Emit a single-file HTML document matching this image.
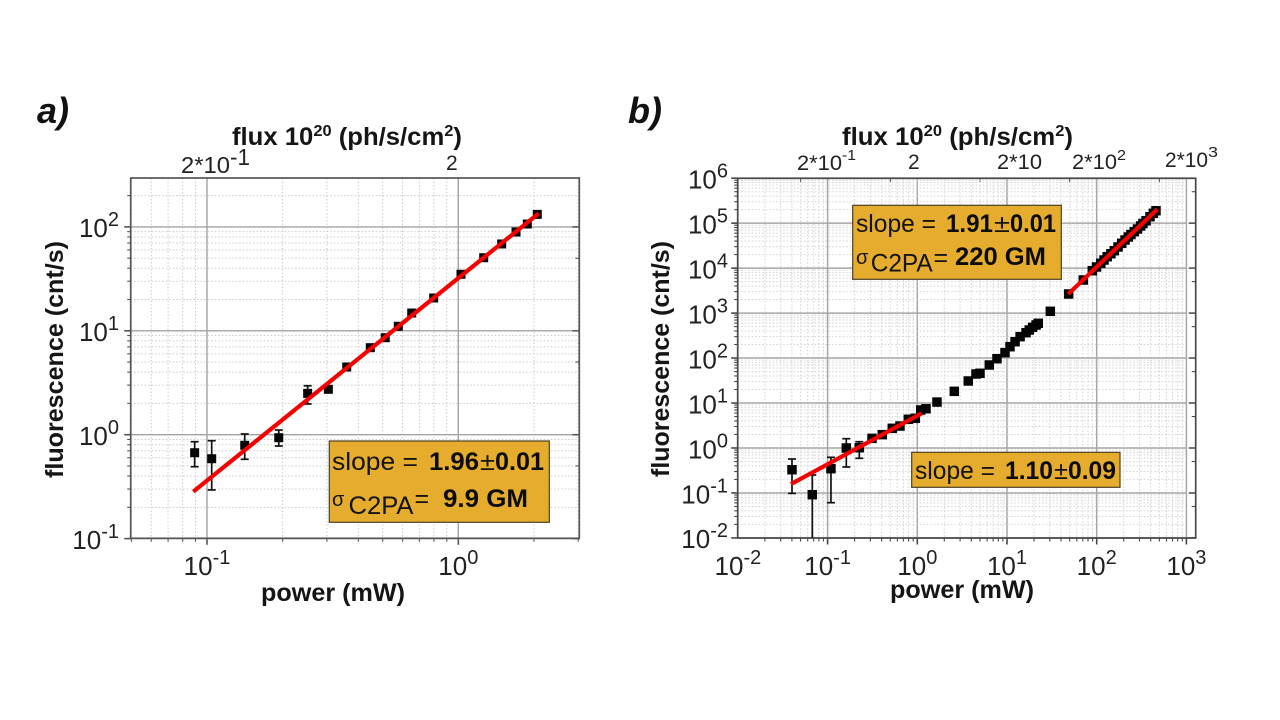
<!DOCTYPE html>
<html lang="en">
<head>
<meta charset="utf-8">
<title>Two-photon fluorescence versus power</title>
<style>
html,body{margin:0;padding:0;background:#fff;width:1280px;height:720px;overflow:hidden}
svg{display:block;filter:blur(0.35px)}
text{font-family:"Liberation Sans",sans-serif;fill:#1c1c1c}
.b{font-weight:700}
.title{font-weight:700;font-style:italic;font-size:36px;fill:#111}
.axt{font-weight:700;font-size:25px;fill:#151515}
.tk{font-size:26px;fill:#222}
.top{font-size:21px;fill:#222}
.topl{font-size:23px;fill:#222}
.topx{font-size:15px;fill:#222}
.box{fill:#e6ac2e;stroke:#4d4020;stroke-width:1.2}
.bt{font-size:25px;fill:#141414}
.sig{font-size:20px;fill:#141414}
.bb{font-size:25px;font-weight:700;fill:#0c0c0c}
</style>
</head>
<body>
<svg id="figure" xmlns="http://www.w3.org/2000/svg" width="1280" height="720" viewBox="0 0 1280 720">
  <rect width="1280" height="720" fill="#fff"/>
  <g id="chart-a"></g>
  <g id="chart-b"></g>

  <text class="title" x="37" y="123">a)</text>
  <text class="title" x="628" y="123">b)</text>

  <text class="axt" x="232" y="145" textLength="230" lengthAdjust="spacingAndGlyphs">flux 10<tspan font-size="16" dy="-9">20</tspan><tspan dy="9"> (ph/s/cm</tspan><tspan font-size="16" dy="-9">2</tspan><tspan dy="9">)</tspan></text>
  <text class="axt" x="842" y="145" textLength="231" lengthAdjust="spacingAndGlyphs">flux 10<tspan font-size="16" dy="-9">20</tspan><tspan dy="9"> (ph/s/cm</tspan><tspan font-size="16" dy="-9">2</tspan><tspan dy="9">)</tspan></text>
  <text class="axt" x="261" y="601" textLength="144" lengthAdjust="spacingAndGlyphs">power (mW)</text>
  <text class="axt" x="890" y="598" textLength="144" lengthAdjust="spacingAndGlyphs">power (mW)</text>
  <text class="axt" transform="translate(63 478) rotate(-90)" textLength="237" lengthAdjust="spacingAndGlyphs">fluorescence (cnt/s)</text>
  <text class="axt" transform="translate(669 477) rotate(-90)" textLength="236" lengthAdjust="spacingAndGlyphs">fluorescence (cnt/s)</text>

  <g>
    <text class="topl" x="181" y="173" textLength="49" lengthAdjust="spacingAndGlyphs">2*10</text>
    <text class="topl" x="230" y="165" textLength="20" lengthAdjust="spacingAndGlyphs">-1</text>
    <text class="top" x="446" y="170">2</text>
  </g>
  <g>
    <text class="top" x="797" y="170" textLength="45" lengthAdjust="spacingAndGlyphs">2*10</text>
    <text class="topx" x="842" y="160" textLength="14" lengthAdjust="spacingAndGlyphs">-1</text>
    <text class="top" x="908" y="169">2</text>
    <text class="top" x="997" y="169" textLength="45" lengthAdjust="spacingAndGlyphs">2*10</text>
    <text class="top" x="1072" y="169" textLength="45" lengthAdjust="spacingAndGlyphs">2*10</text>
    <text class="topx" x="1117" y="160" textLength="9" lengthAdjust="spacingAndGlyphs">2</text>
    <text class="top" x="1165" y="167" textLength="43" lengthAdjust="spacingAndGlyphs">2*10</text>
    <text class="topx" x="1208" y="157" textLength="10" lengthAdjust="spacingAndGlyphs">3</text>
  </g>

  <g>
    <rect class="box" x="329.3" y="441" width="220" height="81.3"/>
    <text class="bt" x="332" y="470" textLength="86" lengthAdjust="spacingAndGlyphs">slope =</text>
    <text class="bb" x="429" y="470" textLength="50" lengthAdjust="spacingAndGlyphs">1.96</text>
    <text class="bt" x="480" y="470" textLength="15" lengthAdjust="spacingAndGlyphs">±</text>
    <text class="bb" x="495" y="470" textLength="49" lengthAdjust="spacingAndGlyphs">0.01</text>
    <text class="sig" x="332" y="506">σ</text>
    <text class="bt" x="348.5" y="514" textLength="65" lengthAdjust="spacingAndGlyphs">C2PA</text>
    <text class="bt" x="414.5" y="507">=</text>
    <text class="bb" x="443" y="507" textLength="85" lengthAdjust="spacingAndGlyphs">9.9 GM</text>
  </g>
  <g>
    <rect class="box" x="852.7" y="205.3" width="208.6" height="74"/>
    <text class="bt" x="856" y="232" textLength="80" lengthAdjust="spacingAndGlyphs">slope =</text>
    <text class="bb" x="946" y="232" textLength="47" lengthAdjust="spacingAndGlyphs">1.91</text>
    <text class="bt" x="994" y="232" textLength="16" lengthAdjust="spacingAndGlyphs">±</text>
    <text class="bb" x="1010" y="232" textLength="46" lengthAdjust="spacingAndGlyphs">0.01</text>
    <text class="sig" x="856" y="264">σ</text>
    <text class="bt" x="870.7" y="271.7" textLength="62" lengthAdjust="spacingAndGlyphs">C2PA</text>
    <text class="bt" x="933.5" y="266">=</text>
    <text class="bb" x="955" y="265" textLength="91" lengthAdjust="spacingAndGlyphs">220 GM</text>
  </g>
  <g>
    <rect class="box" x="911.7" y="452.3" width="208.3" height="35"/>
    <text class="bt" x="915" y="479" textLength="80" lengthAdjust="spacingAndGlyphs">slope =</text>
    <text class="bb" x="1005" y="479" textLength="48" lengthAdjust="spacingAndGlyphs">1.10</text>
    <text class="bt" x="1054" y="479" textLength="14" lengthAdjust="spacingAndGlyphs">±</text>
    <text class="bb" x="1068" y="479" textLength="48" lengthAdjust="spacingAndGlyphs">0.09</text>
  </g>
</svg>

<script>
// ---------- Panel a data ----------
const aPower = [0.0893,0.1044,0.1413,0.193,0.2515,0.304,0.3597,0.4465,0.512,0.577,0.6526,0.798,1.025,1.262,1.488,1.697,1.882,2.062];
const aCounts = [0.671,0.587,0.791,0.935,2.50,2.735,4.48,6.88,8.58,11.05,14.83,20.7,35.0,50.5,68.5,89.3,106.6,132];
const aErrHigh = [0.856,0.875,1.016,1.109,2.96,null,null,null,null,null,null,null,null,null,null,null,null,null];
const aErrLow = [0.492,0.294,0.580,0.778,1.975,null,null,null,null,null,null,null,null,null,null,null,null,null];
const aFitPower = [0.0882,2.089];
const aFitCounts = [0.283,135];
const aXTickExponents = [-1,0];
const aYTickExponents = [-1,0,1,2];

// ---------- Panel b data ----------
const bPower = [0.0401,0.0675,0.109,0.1616,0.2256,0.3126,0.407,0.526,0.641,0.794,0.950,1.091,1.25,1.658,2.585,3.70,4.51,5.00,6.35,7.73,9.50,10.8,12.3,14.0,16.3,17.7,19.3,21.1,22.3,30.4,48.7,70.9,89.3,99.5,111,120.6,131,144,157,173,190,207,225,241,262,285,309,328,355,393,428,458];
const bCounts = [0.329,0.0916,0.3465,1.0,1.016,1.64,1.98,2.74,3.08,4.35,4.57,7.0,7.48,10.5,18.2,30.9,44.2,45.8,70.1,96.8,132,179,231,299,366,421,483,543,593,1096,2657,5445,8770,10600,12800,15150,17950,20900,24400,29500,35650,42200,49200,55900,64600,74100,86500,98200,113000,139000,165600,189000];
const bErrHigh = [0.569,0.251,0.621,1.61,1.38];
const bErrLow = [0.098,0.005,0.0608,0.378,0.59];
const bFitLowPower = [0.0391,1.12];
const bFitLowCounts = [0.158,5.91];
const bFitHighPower = [48.2,474];
const bFitHighCounts = [2657,203000];
const bXTickExponents = [-2,-1,0,1,2,3];
const bYTickExponents = [-2,-1,0,1,2,3,4,5,6];

const SVG_NS = 'http://www.w3.org/2000/svg';

function mk(tag, attrs, parent) {
  const node = document.createElementNS(SVG_NS, tag);
  for (const key in attrs) node.setAttribute(key, attrs[key]);
  parent.appendChild(node);
  return node;
}

function makeAxes(g) {
  return {
    x: v => g.x0 + g.xd * Math.log10(v),
    y: v => Math.min(g.bottom, g.y0 - g.yd * Math.log10(v))
  };
}

function drawGrid(root, g, ax) {
  for (let k = g.xFirst; k <= g.xLast; k++) {
    for (let m = 1; m <= 9; m++) {
      const px = ax.x(m * Math.pow(10, k));
      if (px < g.left + 0.5 || px > g.gridRight + 0.5) continue;
      const major = m === 1;
      const ln = mk('line', {x1: px, x2: px, y1: g.top, y2: g.bottom, stroke: major ? g.majorColor : g.minorColor, 'stroke-width': major ? g.majorWidth : 1, 'stroke-dasharray': major ? 'none' : '1.5 2'}, root);
      
      
      const tick = mk('line', {x1: px, x2: px, y1: g.bottom, y2: g.bottom + (major ? 6.5 : 3.5), stroke: g.axisColor, 'stroke-width': major ? 1.6 : 1.1}, root);
      
      
      if (g.topTicks && m === 5) {
        const topTick = mk('line', {x1: px, x2: px, y1: g.top, y2: g.top + 3.5, stroke: g.axisColor, 'stroke-width': 1.1}, root);
        
        
      }
    }
  }
  for (let k = g.yFirst; k <= g.yLast; k++) {
    for (let m = 1; m <= 9; m++) {
      const py = g.y0 - g.yd * Math.log10(m * Math.pow(10, k));
      if (py < g.top - 0.5 || py > g.bottom + 0.5) continue;
      const major = m === 1;
      const ln = mk('line', {x1: g.left, x2: g.gridRight, y1: py, y2: py, stroke: major ? g.majorColor : g.minorColor, 'stroke-width': major ? g.majorWidth : 1, 'stroke-dasharray': major ? 'none' : '1.5 2'}, root);
      
      
      const tick = mk('line', {x1: g.left - (major ? 6.5 : 3.5), x2: g.left, y1: py, y2: py, stroke: g.axisColor, 'stroke-width': major ? 1.6 : 1.1}, root);
      
      
      if (major || m === 5) {
        const rightTick = mk('line', {x1: g.right - (major ? 7 : 4), x2: g.right, y1: py, y2: py, stroke: g.axisColor, 'stroke-width': major ? 1.5 : 1.1}, root);
        
        
      }
    }
  }
}

function drawFrame(root, g) {
  const frame = mk('rect', {x: g.left, y: g.top, width: g.right - g.left, height: g.bottom - g.top, fill: 'none', stroke: g.axisColor, 'stroke-width': 1.7}, root);
  
  
}

function drawTickLabels(root, g, ax, xExps, yExps) {
  xExps.forEach(function (e) {
    const t = mk('text', {class: 'tk', x: ax.x(Math.pow(10, e)), y: 575, 'text-anchor': 'middle'}, root);
    
    
    const base = mk('tspan', {}, t);
    base.textContent = '10';
    const sup = mk('tspan', {dy: -11, 'font-size': 20}, t);
    sup.textContent = String(e);
  });
  yExps.forEach(function (e) {
    const t = mk('text', {class: 'tk', x: g.yLabelRight, y: g.y0 - g.yd * e + 10.3, 'text-anchor': 'end'}, root);
    
    
    const base = mk('tspan', {}, t);
    base.textContent = '10';
    const sup = mk('tspan', {dy: -11, 'font-size': 20}, t);
    sup.textContent = String(e);
  });
}

function drawErrorBars(root, g, ax, xs, ys, hi, lo) {
  xs.forEach(function (v, i) {
    if (hi[i] === null || hi[i] === undefined) return;
    const px = ax.x(v);
    const yHi = ax.y(hi[i]);
    const yLo = ax.y(lo[i]);
    const stem = mk('line', {x1: px, x2: px, y1: yHi, y2: yLo, stroke: '#111', 'stroke-width': 1.7}, root);
    
    
    const capTop = mk('line', {x1: px - 4, x2: px + 4, y1: yHi, y2: yHi, stroke: '#111', 'stroke-width': 1.7}, root);
    
    
    if (yLo < g.bottom) {
      const capLow = mk('line', {x1: px - 4, x2: px + 4, y1: yLo, y2: yLo, stroke: '#111', 'stroke-width': 1.7}, root);
      
      
    }
  });
}

function drawMarkers(root, g, ax, xs, ys) {
  xs.forEach(function (v, i) {
    const s = g.markerSize;
    const r = mk('rect', {x: ax.x(v) - s / 2, y: ax.y(ys[i]) - s / 2, width: s, height: s, fill: '#050505'}, root);
    
    
  });
}

function drawFit(root, ax, xs, ys) {
  const ln = mk('line', {x1: ax.x(xs[0]), y1: ax.y(ys[0]), x2: ax.x(xs[1]), y2: ax.y(ys[1]), stroke: '#f40000', 'stroke-width': 4.2}, root);
  
  
}

const geomA = {x0: 458.3, xd: 251.3, y0: 434.7, yd: 103.9, left: 130.7, right: 579.3, gridRight: 579.3, top: 178, bottom: 538.3,
  xFirst: -2, xLast: 0, yFirst: -1, yLast: 2, majorColor: '#a3a3a3', minorColor: '#cbcbcb', majorWidth: 1.4, axisColor: '#555',
  topTicks: false, markerSize: 9, yLabelRight: 119};
const geomB = {x0: 917.3, xd: 89.7, y0: 448, yd: 44.97, left: 737.7, right: 1195.7, gridRight: 1186, top: 178.3, bottom: 538,
  xFirst: -2, xLast: 3, yFirst: -2, yLast: 6, majorColor: '#a6a6a6', minorColor: '#d2d2d2', majorWidth: 1.5, axisColor: '#484848',
  topTicks: true, markerSize: 9.5, yLabelRight: 728};

const rootA = document.getElementById('chart-a');
const axA = makeAxes(geomA);
drawGrid(rootA, geomA, axA);
drawFrame(rootA, geomA);
drawTickLabels(rootA, geomA, axA, aXTickExponents, aYTickExponents);
drawErrorBars(rootA, geomA, axA, aPower, aCounts, aErrHigh, aErrLow);
drawMarkers(rootA, geomA, axA, aPower, aCounts);
drawFit(rootA, axA, aFitPower, aFitCounts);

const rootB = document.getElementById('chart-b');
const axB = makeAxes(geomB);
drawGrid(rootB, geomB, axB);
drawFrame(rootB, geomB);
drawTickLabels(rootB, geomB, axB, bXTickExponents, bYTickExponents);
drawErrorBars(rootB, geomB, axB, bPower, bCounts, bErrHigh, bErrLow);
drawMarkers(rootB, geomB, axB, bPower, bCounts);
drawFit(rootB, axB, bFitLowPower, bFitLowCounts);
drawFit(rootB, axB, bFitHighPower, bFitHighCounts);
</script>
</body>
</html>
